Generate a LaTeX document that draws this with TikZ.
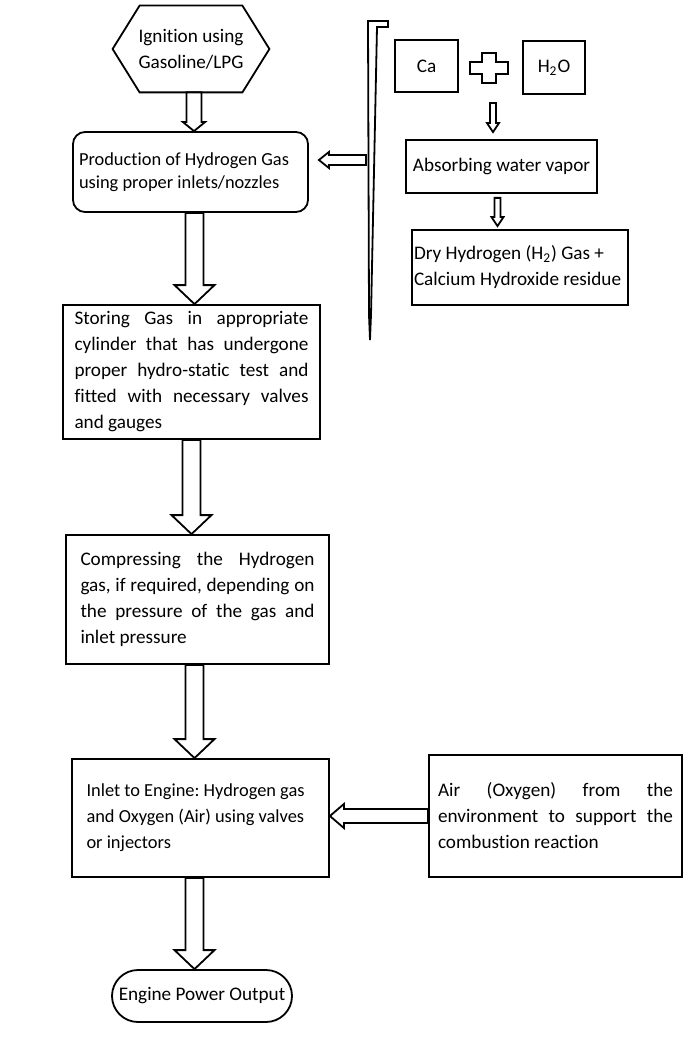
\documentclass[tikz,border=0pt]{standalone}
\usepackage{fontspec}
\setmainfont{Carlito}[Ligatures=CommonOff]
\usetikzlibrary{calc}

% hollow block arrows: from, to, shaft half width, head half width, head length
\newcommand{\blockdown}[5]{%
  \draw[blockarrow] let \p1=#1, \p2=#2 in
    (\x1-#3,\y1) -- (\x1-#3,\y2+#5) -- (\x1-#4,\y2+#5) -- (\x1,\y2)
    -- (\x1+#4,\y2+#5) -- (\x1+#3,\y2+#5) -- (\x1+#3,\y1) -- cycle;}
\newcommand{\blockleft}[5]{%
  \draw[blockarrow] let \p1=#1, \p2=#2 in
    (\x1,\y1+#3) -- (\x2+#5,\y1+#3) -- (\x2+#5,\y1+#4) -- (\x2,\y1)
    -- (\x2+#5,\y1-#4) -- (\x2+#5,\y1-#3) -- (\x1,\y1-#3) -- cycle;}

\begin{document}
\frenchspacing
\begin{tikzpicture}[x=0.5pt, y=-0.5pt, line width=0.9pt,
    flowbox/.style 2 args={draw, minimum width=#1, minimum height=#2,
      inner sep=0pt, font=\fontsize{9.6}{13}\selectfont},
    smallfont/.style={font=\fontsize{9.2}{#1}\selectfont},
    blockarrow/.style={draw, fill=white, line join=miter},
    lefttext/.style={align=left, text width=#1,
      execute at begin node={\spaceskip=0pt\xspaceskip=0pt}},
    justtext/.style={align=justify, text width=#1,
      execute at begin node={\spaceskip=0pt\xspaceskip=0pt\tolerance=9999\hyphenpenalty=10000\exhyphenpenalty=10000}}]
  \useasboundingbox (0,0) rectangle (700,1048);

  % main column
  \node[flowbox={77.5pt}{42.5pt}, draw=none, align=center] (ign) at (191,49)
    {Ignition using\\Gasoline/LPG};
  \draw (ign.west) -- ($(ign.north west)+(27,0)$) -- ($(ign.north east)+(-27,0)$)
    -- (ign.east) -- ($(ign.south east)+(-27,0)$) -- ($(ign.south west)+(27,0)$) -- cycle;
  \node[flowbox={117.5pt}{40pt}, rounded corners=6pt, lefttext=111.5pt,
    smallfont=11.5] (prod) at (190.5,172)
    {Production of Hydrogen Gas\\using proper inlets/nozzles};
  \node[flowbox={128.5pt}{67pt}, justtext=117pt] (store) at (191.5,372)
    {Storing Gas in appropriate\linebreak cylinder that has undergone\linebreak
     proper hydro-static test and\linebreak fitted with necessary valves\linebreak and gauges};
  \node[flowbox={131.5pt}{64.5pt}, justtext=117pt] (comp) at (197.5,599.5)
    {Compressing the Hydrogen\linebreak gas, if required, depending on\linebreak
     the pressure of the gas and\linebreak inlet pressure};
  \node[flowbox={128.5pt}{59pt}, lefttext=114pt, smallfont=13] (inlet) at (200.5,818)
    {Inlet to Engine: Hydrogen gas\\and Oxygen (Air) using valves\\or injectors};
  \node[flowbox={90pt}{26pt}, rounded corners=13pt] (engine) at (202,996)
    {Engine Power Output};

  % side nodes
  \node[flowbox={126.5pt}{61pt}, justtext=117.5pt] (air) at (555.5,816)
    {Air (Oxygen) from the\linebreak environment to support the\linebreak combustion reaction};
  \node[flowbox={31.5pt}{26pt}] (ca) at (426.5,66) {Ca};
  \node[flowbox={31pt}{26.5pt}] (h2o) at (554,67.5) {H\textsubscript{2}O};
  \node[flowbox={95.5pt}{26.5pt}] (absorb) at (501.5,166.5) {Absorbing water vapor};
  \node[flowbox={108pt}{37.5pt}, lefttext=106pt] (dry) at (520,267.5)
    {Dry Hydrogen (H\textsubscript{2}) Gas +\\Calcium Hydroxide residue};

  % plus sign and bracket
  \coordinate (plus) at (489,68);
  \draw[shift={(plus)}] (-7,-15) -- (7,-15) -- (7,-6) -- (19,-6) -- (19,6) -- (7,6)
    -- (7,15) -- (-7,15) -- (-7,6) -- (-19,6) -- (-19,-6) -- (-7,-6) -- cycle;
  \draw[line join=miter] (368,21) -- (388,21) -- (388,27) -- (377,27) -- (371,315)
    -- (370,340) -- (369,315) -- cycle;
  \coordinate (brk) at (366,160);
  \coordinate (mix) at (493,103);

  % arrows
  \blockdown{($(ign.south)+(3,0)$)}{(prod.north)}{3.75pt}{5.5pt}{4.5pt}
  \blockdown{($(prod.south)+(4,0)$)}{(store.north)}{4.5pt}{10pt}{9.5pt}
  \blockdown{(store.south)}{(comp.north)}{4.5pt}{10pt}{9.5pt}
  \blockdown{($(comp.south)+(-3,0)$)}{(inlet.north)}{4.5pt}{10pt}{9.5pt}
  \blockdown{($(inlet.south)+(-6,0)$)}{(engine.north)}{4.5pt}{10pt}{9.5pt}
  \blockdown{(mix)}{($(absorb.north)+(0,-7)$)}{1.5pt}{3pt}{4.5pt}
  \blockdown{($(absorb.south)+(-4,4)$)}{($(dry.north)+(0,-3)$)}{1.5pt}{3pt}{4.5pt}
  \blockleft{(brk)}{($(prod.east)+(10,0)$)}{2.5pt}{4pt}{5pt}
  \blockleft{(air.west)}{(inlet.east)}{3.5pt}{6pt}{7pt}
\end{tikzpicture}
\end{document}
